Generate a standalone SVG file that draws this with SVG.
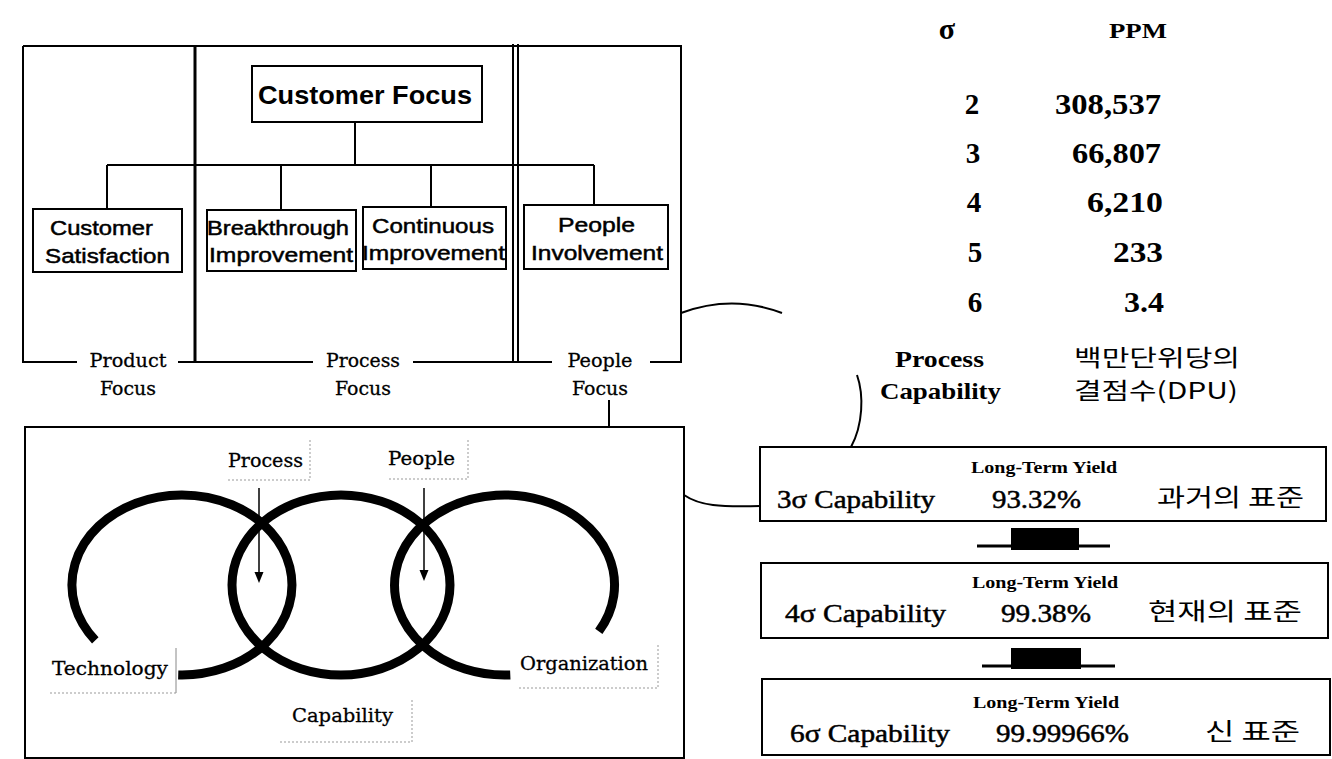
<svg xmlns="http://www.w3.org/2000/svg" width="1332" height="759" viewBox="0 0 1332 759">
<defs>
<style>
.ln{stroke:#000;stroke-width:2;fill:none}
.thick{stroke:#000;stroke-width:3;fill:none}
.box{stroke:#000;stroke-width:2;fill:#fff}
.ring{stroke:#000;stroke-width:9;fill:none}
.dot{stroke:#999;stroke-width:1;stroke-dasharray:2 2;fill:none}
.sans{font-family:"Liberation Sans",Arial,sans-serif;fill:#000}
.ser{font-family:"DejaVu Serif","Liberation Serif",serif;fill:#000;stroke:#000;stroke-width:0.3}
.tms{font-family:"Liberation Serif","Times New Roman",serif;fill:#000}
.kr{font-family:"Noto Sans CJK KR","Noto Sans",sans-serif;fill:#000}
.heavy{stroke:#000;stroke-width:0.5}
</style>
</defs>
<rect width="1332" height="759" fill="#fff"/>

<!-- Top-left focus frame -->
<g id="focus-frame">
<path class="ln" d="M23,46 H681 V362 H650 M552,362 H413 M313,362 H178 M77,362 H23 V46"/>
<path class="thick" d="M195,46 V362"/>
<path class="ln" d="M513,44 V362 M518,44 V362"/>
<text class="ser" x="128" y="367" font-size="19" text-anchor="middle" textLength="77" lengthAdjust="spacingAndGlyphs">Product</text>
<text class="ser" x="128" y="395" font-size="19" text-anchor="middle" textLength="56" lengthAdjust="spacingAndGlyphs">Focus</text>
<text class="ser" x="363" y="367" font-size="19" text-anchor="middle" textLength="74" lengthAdjust="spacingAndGlyphs">Process</text>
<text class="ser" x="363" y="395" font-size="19" text-anchor="middle" textLength="56" lengthAdjust="spacingAndGlyphs">Focus</text>
<text class="ser" x="600" y="367" font-size="19" text-anchor="middle" textLength="65" lengthAdjust="spacingAndGlyphs">People</text>
<text class="ser" x="600" y="395" font-size="19" text-anchor="middle" textLength="56" lengthAdjust="spacingAndGlyphs">Focus</text>
</g>

<!-- Tree connectors -->
<g id="tree-connectors">
<path class="ln" d="M355,122 V165 M107,165 H594 M107,165 V209 M281,165 V210 M431,165 V207 M594,165 V205"/>
</g>

<g id="customer-focus">
<rect class="box" x="252" y="66" width="230" height="56"/>
<text class="sans" x="258" y="104" font-size="26" font-weight="bold" textLength="214" lengthAdjust="spacingAndGlyphs">Customer Focus</text>
</g>
<g id="customer-satisfaction">
<rect class="box" x="33" y="209" width="149" height="63"/>
<text class="sans heavy" x="50" y="235" font-size="21" textLength="103" lengthAdjust="spacingAndGlyphs">Customer</text>
<text class="sans heavy" x="45" y="263" font-size="21" textLength="125" lengthAdjust="spacingAndGlyphs">Satisfaction</text>
</g>
<g id="breakthrough-improvement">
<rect class="box" x="207" y="210" width="149" height="61"/>
<text class="sans heavy" x="207" y="235" font-size="21" textLength="142" lengthAdjust="spacingAndGlyphs">Breakthrough</text>
<text class="sans heavy" x="209" y="262" font-size="21" textLength="144" lengthAdjust="spacingAndGlyphs">Improvement</text>
</g>
<g id="continuous-improvement">
<rect class="box" x="363" y="207" width="143" height="62"/>
<text class="sans heavy" x="372" y="233" font-size="21" textLength="122" lengthAdjust="spacingAndGlyphs">Continuous</text>
<text class="sans heavy" x="362" y="260" font-size="21" textLength="143" lengthAdjust="spacingAndGlyphs">Improvement</text>
</g>
<g id="people-involvement">
<rect class="box" x="524" y="205" width="144" height="64"/>
<text class="sans heavy" x="558" y="232" font-size="21" textLength="77" lengthAdjust="spacingAndGlyphs">People</text>
<text class="sans heavy" x="531" y="260" font-size="21" textLength="132" lengthAdjust="spacingAndGlyphs">Involvement</text>
</g>

<!-- Capability panel -->
<g id="capability-panel">
<rect class="ln" x="25" y="427" width="659" height="331"/>
<path class="ring" d="M95.3,640.4 A110,90 0 1 1 178.2,674.9"/>
<ellipse class="ring" cx="341" cy="585" rx="109" ry="90"/>
<path class="ring" d="M510.3,674.9 A110,90 0 1 1 598.8,631.4"/>
<path stroke="#000" stroke-width="1.5" d="M259,488 V574"/>
<path fill="#000" d="M254.5,572 L263.5,572 L259,583 Z"/>
<path stroke="#000" stroke-width="1.5" d="M424,488 V572"/>
<path fill="#000" d="M419.5,570 L428.5,570 L424,581 Z"/>
<text class="ser" x="228" y="467" font-size="19" textLength="75" lengthAdjust="spacingAndGlyphs">Process</text>
<path class="dot" d="M310,440 V480 H228"/>
<text class="ser" x="388" y="465" font-size="19" textLength="67" lengthAdjust="spacingAndGlyphs">People</text>
<path class="dot" d="M468,440 V479 H388"/>
<text class="ser" x="52" y="675" font-size="19" textLength="116" lengthAdjust="spacingAndGlyphs">Technology</text>
<path stroke="#888" stroke-width="1" d="M176,648 V693"/>
<path class="dot" d="M176,693 H50"/>
<text class="ser" x="520" y="670" font-size="19" textLength="128" lengthAdjust="spacingAndGlyphs">Organization</text>
<path class="dot" d="M658,645 V688 H517"/>
<text class="ser" x="292" y="722" font-size="19" textLength="101" lengthAdjust="spacingAndGlyphs">Capability</text>
<path class="dot" d="M412,700 V742 H280"/>
</g>

<!-- Sigma / PPM table -->
<g id="ppm-table">
<text class="tms" x="947" y="39" font-size="30" font-weight="bold" text-anchor="middle">σ</text>
<text class="tms" x="1109" y="38" font-size="22" font-weight="bold" textLength="58" lengthAdjust="spacingAndGlyphs">PPM</text>
<g font-size="29" font-weight="bold">
<text class="tms" x="972" y="114" text-anchor="middle">2</text>
<text class="tms" x="1055" y="114" textLength="106" lengthAdjust="spacingAndGlyphs">308,537</text>
<text class="tms" x="973" y="163" text-anchor="middle">3</text>
<text class="tms" x="1072" y="163" textLength="89" lengthAdjust="spacingAndGlyphs">66,807</text>
<text class="tms" x="974" y="212" text-anchor="middle">4</text>
<text class="tms" x="1087" y="212" textLength="76" lengthAdjust="spacingAndGlyphs">6,210</text>
<text class="tms" x="975" y="262" text-anchor="middle">5</text>
<text class="tms" x="1113" y="262" textLength="50" lengthAdjust="spacingAndGlyphs">233</text>
<text class="tms" x="975" y="312" text-anchor="middle">6</text>
<text class="tms" x="1124" y="312" textLength="40" lengthAdjust="spacingAndGlyphs">3.4</text>
</g>
<text class="tms" x="895" y="367" font-size="23" font-weight="bold" textLength="89" lengthAdjust="spacingAndGlyphs">Process</text>
<text class="tms" x="880" y="399" font-size="23" font-weight="bold" textLength="121" lengthAdjust="spacingAndGlyphs">Capability</text>
<text class="kr" x="1074" y="366" font-size="23" textLength="166" lengthAdjust="spacingAndGlyphs">백만단위당의</text>
<text class="kr" x="1074" y="399" font-size="23" textLength="164" lengthAdjust="spacingAndGlyphs">결점수(DPU)</text>
</g>

<!-- Yield boxes -->
<g id="yield-3sigma">
<rect class="box" x="760" y="447" width="566" height="74"/>
<text class="tms" x="1044" y="473" font-size="16" font-weight="bold" text-anchor="middle" textLength="146" lengthAdjust="spacingAndGlyphs">Long-Term Yield</text>
<text class="tms heavy" x="777" y="508" font-size="26" textLength="158" lengthAdjust="spacingAndGlyphs">3σ Capability</text>
<text class="tms heavy" x="992" y="508" font-size="26" textLength="89" lengthAdjust="spacingAndGlyphs">93.32%</text>
<text class="kr" x="1157" y="506" font-size="24" textLength="147" lengthAdjust="spacingAndGlyphs">과거의 표준</text>
</g>
<g id="yield-4sigma">
<rect class="box" x="761" y="563" width="567" height="75"/>
<text class="tms" x="1045" y="588" font-size="16" font-weight="bold" text-anchor="middle" textLength="146" lengthAdjust="spacingAndGlyphs">Long-Term Yield</text>
<text class="tms heavy" x="785" y="622" font-size="26" textLength="161" lengthAdjust="spacingAndGlyphs">4σ Capability</text>
<text class="tms heavy" x="1001" y="622" font-size="26" textLength="90" lengthAdjust="spacingAndGlyphs">99.38%</text>
<text class="kr" x="1148" y="620" font-size="24" textLength="154" lengthAdjust="spacingAndGlyphs">현재의 표준</text>
</g>
<g id="yield-6sigma">
<rect class="box" x="762" y="679" width="568" height="76"/>
<text class="tms" x="1046" y="708" font-size="16" font-weight="bold" text-anchor="middle" textLength="146" lengthAdjust="spacingAndGlyphs">Long-Term Yield</text>
<text class="tms heavy" x="790" y="742" font-size="26" textLength="160" lengthAdjust="spacingAndGlyphs">6σ Capability</text>
<text class="tms heavy" x="996" y="742" font-size="26" textLength="133" lengthAdjust="spacingAndGlyphs">99.99966%</text>
<text class="kr" x="1205" y="740" font-size="24" textLength="95" lengthAdjust="spacingAndGlyphs">신 표준</text>
</g>

<!-- Connectors -->
<g id="connectors">
<path class="ln" d="M681,313 Q732,294 782,313"/>
<path class="ln" d="M609,400 V427"/>
<path class="ln" d="M857,375 C864,395 863,425 851,447"/>
<path class="ln" d="M684,495 C700,506 720,507 760,506"/>
<rect x="1011" y="528" width="68" height="22" fill="#000"/>
<path class="thick" d="M977,546 H1110"/>
<rect x="1011" y="648" width="70" height="21" fill="#000"/>
<path class="thick" d="M982,666 H1115"/>
</g>
</svg>
